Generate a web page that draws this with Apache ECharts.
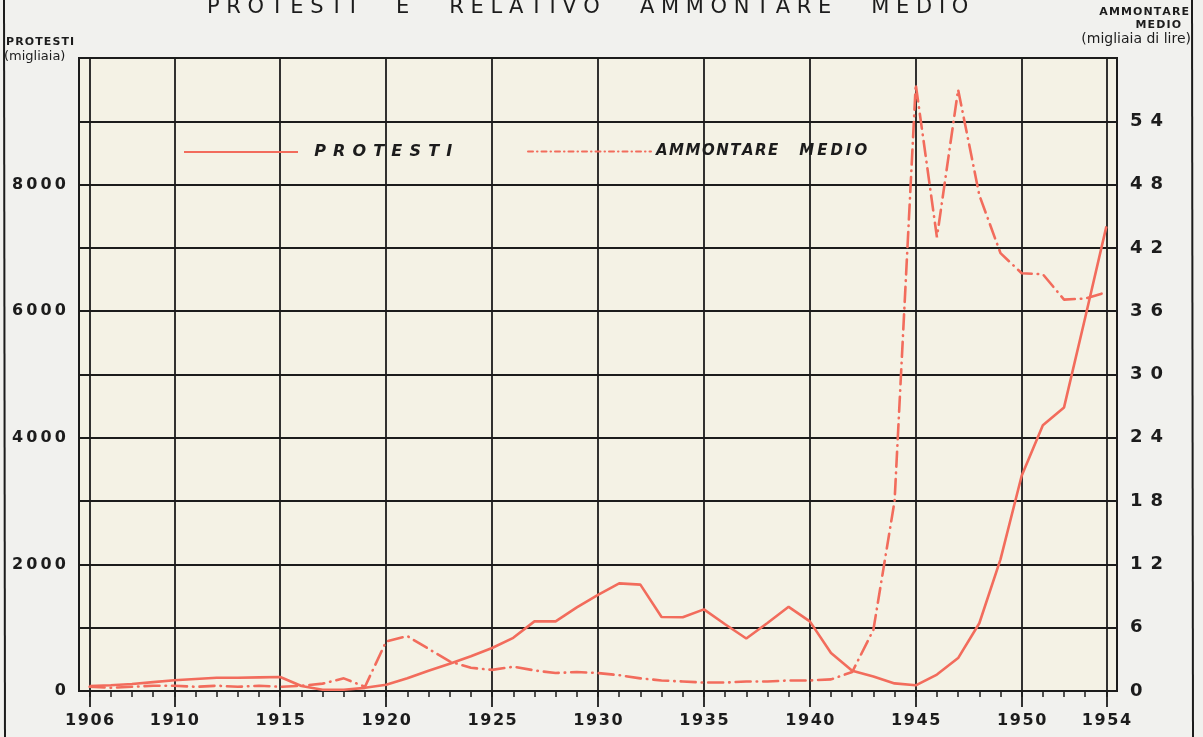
<!DOCTYPE html>
<html>
<head>
<meta charset="utf-8">
<script src="https://cdn.jsdelivr.net/npm/echarts@6/dist/echarts.min.js"></script>
<style>
  html, body { margin: 0; padding: 0; background: #f1f1ee; }
  #chart { width: 1203px; height: 737px; }
</style>
</head>
<body>
<div id="chart"></div>
<script>
// anni 1906-1954
var years = [];
for (var y = 1906; y <= 1954; y++) years.push(String(y));

// protesti (migliaia)
var protesti = [
  80, 90, 110, 140, 170, 190, 210, 210, 215, 220,      // 1906-1915
  80, 20, 20, 50, 100, 200, 320, 430, 550, 680,        // 1916-1925
  840, 1100, 1100, 1320, 1520, 1700, 1680, 1170, 1165, 1290, // 1926-1935
  1055, 830, 1075, 1330, 1100, 600, 320, 230, 120, 90, // 1936-1945
  260, 520, 1070, 2080, 3400, 4200, 4480, 5900, 7340   // 1946-1954
];

// ammontare medio (migliaia di lire)
var ammontare = [
  0.4, 0.3, 0.4, 0.5, 0.5, 0.4, 0.5, 0.4, 0.5, 0.4,    // 1906-1915
  0.5, 0.7, 1.2, 0.4, 4.7, 5.2, 4.0, 2.8, 2.2, 2.0,    // 1916-1925
  2.3, 1.95, 1.7, 1.8, 1.7, 1.5, 1.2, 1.0, 0.9, 0.8,   // 1926-1935
  0.8, 0.9, 0.9, 1.0, 1.0, 1.1, 1.8, 5.8, 18, 57.5,    // 1936-1945
  43, 57, 47, 41.5, 39.6, 39.5, 37.1, 37.2, 37.8       // 1946-1954
];

var leftTicks = [0, 2000, 4000, 6000, 8000];
var rightTicks = [0, 6, 12, 18, 24, 30, 36, 42, 48, 54];
var labelYears = [1906, 1910, 1915, 1920, 1925, 1930, 1935, 1940, 1945, 1950, 1954];

var RED = '#f26c5c';
var INK = '#1c1c1c';

function spaced(s, sep) {
  return String(s).split('').join(sep || '\u2009');
}
function isLabelYear(i, v) {
  return labelYears.indexOf(Number(v)) >= 0;
}

var myChart = echarts.init(document.getElementById('chart'));

var option = {
  animation: false,
  backgroundColor: '#f1f1ee',
  grid: {
    left: 79, right: 86, top: 58, bottom: 46,
    show: true,
    backgroundColor: '#f4f2e5',
    borderColor: INK,
    borderWidth: 2
  },
  legend: [
    {
      data: ['PROTESTI'],
      left: 183, top: 144,
      padding: 0,
      itemWidth: 114, itemHeight: 16,
      itemStyle: { opacity: 0, borderWidth: 0 },
      formatter: function (n) { return '  ' + spaced(n, ' \u200a'); },
      textStyle: { fontFamily: 'DejaVu Sans', fontStyle: 'italic', fontWeight: 'bold', fontSize: 16, color: INK }
    },
    {
      data: ['AMMONTARE MEDIO'],
      left: 527, top: 144,
      padding: 0,
      itemWidth: 123, itemHeight: 16,
      itemStyle: { opacity: 0, borderWidth: 0 },
      lineStyle: { type: [5, 4, 0.5, 4], width: 2 },
      formatter: function (n) { return spaced('AMMONTARE', '\u200a') + '    ' + spaced('MEDIO', '\u2009'); },
      textStyle: { fontFamily: 'DejaVu Sans', fontStyle: 'italic', fontWeight: 'bold', fontSize: 15, color: INK }
    }
  ],
  xAxis: [
    {
      type: 'category',
      data: years,
      boundaryGap: true,
      position: 'bottom',
      axisLine: { show: true, lineStyle: { color: INK, width: 2 } },
      axisTick: { show: true, alignWithLabel: true, interval: 0, length: 6, lineStyle: { color: INK, width: 1.5 } },
      axisLabel: {
        interval: isLabelYear,
        margin: 22,
        formatter: function (v) { return spaced(v, '\u200a'); },
        fontFamily: 'DejaVu Sans', fontSize: 16, fontWeight: 'bold', color: INK
      },
      splitLine: { show: true, alignWithLabel: true, interval: isLabelYear, lineStyle: { color: INK, width: 1.8 } }
    },
    {
      type: 'category',
      data: years,
      boundaryGap: true,
      position: 'bottom',
      axisLine: { show: false },
      axisTick: { show: true, alignWithLabel: true, interval: isLabelYear, length: 16, lineStyle: { color: INK, width: 1.8 } },
      axisLabel: { show: false },
      splitLine: { show: false }
    }
  ],
  yAxis: [
    {
      type: 'value',
      position: 'left',
      min: 0, max: 10000, interval: 1000,
      axisLine: { show: false },
      axisTick: { show: false },
      axisLabel: {
        margin: 13,
        formatter: function (v) { return leftTicks.indexOf(v) >= 0 ? spaced(v) : ''; },
        fontFamily: 'DejaVu Sans', fontSize: 16, fontWeight: 'bold', color: INK
      },
      splitLine: { show: true, lineStyle: { color: INK, width: 1.8 } }
    },
    {
      type: 'value',
      position: 'right',
      min: 0, max: 60, interval: 6,
      axisLine: { show: false },
      axisTick: { show: false },
      axisLabel: {
        margin: 13,
        formatter: function (v) { return rightTicks.indexOf(v) >= 0 ? spaced(v, ' \u200a') : ''; },
        fontFamily: 'DejaVu Sans', fontSize: 18, fontWeight: 'bold', color: INK
      },
      splitLine: { show: false }
    }
  ],
  series: [
    {
      name: 'PROTESTI',
      type: 'line',
      xAxisIndex: 0, yAxisIndex: 0,
      symbol: 'none',
      data: protesti,
      lineStyle: { color: RED, width: 2.6 },
      itemStyle: { color: RED }
    },
    {
      name: 'AMMONTARE MEDIO',
      type: 'line',
      xAxisIndex: 0, yAxisIndex: 1,
      symbol: 'none',
      data: ammontare,
      lineStyle: { color: RED, width: 2.6, type: [15, 6, 0.5, 6], cap: 'round' },
      itemStyle: { color: RED }
    }
  ],
  graphic: [
    { type: 'line', shape: { x1: 4, y1: 0, x2: 5, y2: 737 }, style: { stroke: INK, lineWidth: 2 } },
    { type: 'line', shape: { x1: 1192, y1: 0, x2: 1193, y2: 737 }, style: { stroke: INK, lineWidth: 2 } },
    {
      type: 'text', left: 207, top: -3,
      style: {
        text: 'P R O T E S T I      E      R E L A T I V O      A M M O N T A R E      M E D I O',
        font: '21px "DejaVu Sans"', fill: INK
      }
    },
    { type: 'text', left: 6, top: 37, style: { text: spaced('PROTESTI', '\u200a'), font: 'bold 11px "DejaVu Sans"', fill: INK } },
    { type: 'text', left: 4, top: 50, style: { text: '(migliaia)', font: '13px "DejaVu Sans"', fill: INK } },
    { type: 'text', right: 14, top: 7, style: { text: spaced('AMMONTARE', '\u200a'), font: 'bold 11px "DejaVu Sans"', fill: INK } },
    { type: 'text', right: 22, top: 20, style: { text: spaced('MEDIO', '\u200a'), font: 'bold 11px "DejaVu Sans"', fill: INK } },
    { type: 'text', right: 12, top: 32, style: { text: '(migliaia di lire)', font: '14px "DejaVu Sans"', fill: INK } }
  ]
};

myChart.setOption(option);
</script>
</body>
</html>
